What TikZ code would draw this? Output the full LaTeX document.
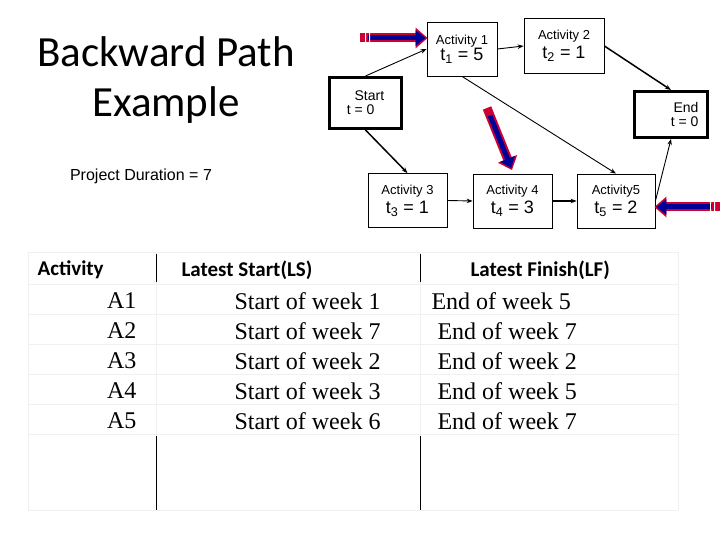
\documentclass[tikz,border=0pt]{standalone}
\usepackage{fontspec}
\setmainfont{Liberation Serif}
\newfontfamily\ari{Liberation Sans}
\newfontfamily\calfont{Carlito}
\usetikzlibrary{arrows.meta,calc}
\begin{document}
\begin{tikzpicture}[x=1pt,y=-1pt,
  box/.style={draw,line width=0.8pt,minimum width=#1,minimum height=54pt,inner sep=0pt,align=center,font=\ari},
  thick box/.style={draw,line width=3pt,font=\ari,inner sep=0pt},
  edge/.style={-{Stealth[length=6pt]},line width=0.9pt},
  gridl/.style={draw=black!6,line width=0.8pt},
  fatr/.style={line width=9pt,draw=red!80!blue,-{Triangle[length=12pt,width=20pt]}},
  fatb/.style={line width=5pt,draw=blue!60!black,-{Triangle[length=10pt,width=15pt]}}]
\useasboundingbox (0,0) rectangle (720,540);
% title
\node[font=\calfont\fontsize{43}{50}\selectfont,align=center] (title) at (166,80) {Backward Path\\Example};
\node[font=\ari\fontsize{16}{18}\selectfont] (dur) at (141,176) {Project Duration = 7};
% nodes
\node[box=70pt,minimum height=54pt] (a1) at (462,49) {\fontsize{13}{15}\selectfont Activity 1\\[0pt]\fontsize{18}{20}\selectfont t\textsubscript{1} = 5};
\node[box=80pt,minimum height=55pt] (a2) at (564,46) {\fontsize{13}{15}\selectfont Activity 2\\[3pt]\fontsize{18}{20}\selectfont t\textsubscript{2} = 1};
\node[thick box,minimum width=72pt,minimum height=51pt,align=left] (st) at (365.5,103) {\fontsize{14}{16}\selectfont ~~Start\\[2pt]\fontsize{14}{16}\selectfont t = 0\hspace{30pt}};
\node[thick box,minimum width=73pt,minimum height=46pt,align=right] (en) at (671,114.5) {\hspace{30pt}\fontsize{14}{16}\selectfont End\\[2pt]\fontsize{14}{16}\selectfont t = 0};
\node[box=79pt] (a3) at (407.5,200.5) {\fontsize{13}{15}\selectfont Activity 3\\[3pt]\fontsize{18}{20}\selectfont t\textsubscript{3} = 1};
\node[box=79pt] (a4) at (512.5,201) {\fontsize{13}{15}\selectfont Activity 4\\[3pt]\fontsize{18}{20}\selectfont t\textsubscript{4} = 3};
\node[box=78pt] (a5) at (616,201) {\fontsize{13}{15}\selectfont Activity5\\[3pt]\fontsize{18}{20}\selectfont t\textsubscript{5} = 2};
% edges
\draw[edge] (st.north) -- (a1.west);
\draw[edge,line width=1.5pt] (st.south) -- (a3.north);
\draw[edge] (a1.east) -- (a2.west);
\draw[edge,line width=1.5pt] (a2.east) -- (en.north);
\draw[edge] (a1.south) -- (a5.north);
\draw[edge] (a3.east) -- (a4.west);
\draw[edge,line width=1.5pt] (a4.east) -- (a5.west);
\draw[edge] (a5.east) -- (en.south);
% fat arrows
\coordinate (f1s) at (360,38);
\draw[fatr] (f1s) -- ([xshift=1pt]a1.west |- f1s);
\draw[fatb] ([xshift=8pt]f1s) -- ([xshift=-1pt]a1.west |- f1s);
\fill[white] (365,32) rectangle (366,44) (369,32) rectangle (370,44);
\coordinate (f2s) at (487,108); \coordinate (f2e) at (512,170);
\draw[fatr] (f2s) -- (f2e);
\draw[fatb] ($(f2s)!0.12!(f2e)$) -- ($(f2s)!0.97!(f2e)$);
\coordinate (f3s) at (720,207);
\draw[fatr] (f3s) -- ([xshift=-1pt]a5.east |- f3s);
\draw[fatb] ([xshift=-8pt]f3s) -- ([xshift=1pt]a5.east |- f3s);
\fill[white] (714,201) rectangle (715,213) (710,201) rectangle (711,213);
% table
\foreach \y in {252,284,314,344,374,404,434,510} \draw[gridl] (28,\y) -- (678,\y);
\draw[gridl] (28,252) -- (28,510) (678,252) -- (678,510);
\draw[gridl] (156,252) -- (156,510) (420,252) -- (420,510);
\draw[line width=0.8pt] (156,254) -- (156,282) (156,436) -- (156,510) (420,254) -- (420,282) (420,436) -- (420,510);
\node[font=\calfont\bfseries\fontsize{21}{23}\selectfont,anchor=west] (h1) at (34,270) {Activity};
\node[font=\calfont\bfseries\fontsize{21}{23}\selectfont,anchor=west] (h2) at (178,270) {Latest Start(LS)};
\node[font=\calfont\bfseries\fontsize{21}{23}\selectfont,anchor=west] (h3) at (467,270) {Latest Finish(LF)};
\foreach \y/\a/\s [count=\i] in {301/1/1,331/2/7,361/3/2,391/4/3,421/5/6}{
  \node[font=\fontsize{24}{26}\selectfont,anchor=east] (act\i) at (140,\y) {A\a};
  \node[font=\fontsize{24}{26}\selectfont,anchor=west] (ls\i) at (231,\y) {Start of week \s};
}
\node[font=\fontsize{24}{26}\selectfont,anchor=west] (lf1) at (428,301) {End of week 5};
\node[font=\fontsize{24}{26}\selectfont,anchor=west] (lf2) at (434,331) {End of week 7};
\node[font=\fontsize{24}{26}\selectfont,anchor=west] (lf3) at (434,361) {End of week 2};
\node[font=\fontsize{24}{26}\selectfont,anchor=west] (lf4) at (434,391) {End of week 5};
\node[font=\fontsize{24}{26}\selectfont,anchor=west] (lf5) at (434,421) {End of week 7};
\end{tikzpicture}
\end{document}
